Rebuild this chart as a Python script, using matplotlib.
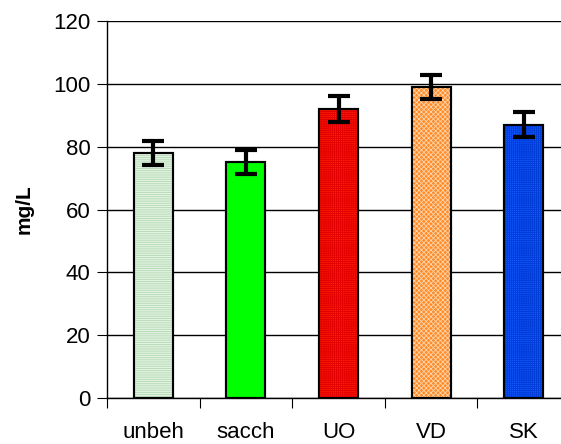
import numpy as np
import matplotlib.pyplot as plt

plt.rcParams['font.family'] = ['Liberation Sans', 'DejaVu Sans']
plt.rcParams['hatch.linewidth'] = 0.6

# data
labels = ["unbeh", "sacch", "UO", "VD", "SK"]
values = [78, 75, 92, 99, 87]
errors = [3.8, 3.8, 4.2, 3.9, 4.0]

# look of each bar: fill, hatch colour, hatch pattern
fills = ["#b8dcb8", "#00ff00", "#ff2200", "#ff8a28", "#1458ff"]
hatch_cols = ["#ecf7ec", "#00ff00", "#e40000", "#ffd4a8", "#003cd8"]
hatches = ["---------", None, "++++++++", "xxxxxxx", "++++++++"]

fig = plt.figure(figsize=(5.61, 4.44), dpi=100)
ax = fig.add_axes([107 / 561, 46 / 444, 463 / 561, 377 / 444])

x = np.arange(len(labels)) + 0.5
w = 0.42

ax.bar(x, values, w, color=fills, edgecolor="black", linewidth=1.5, zorder=3)
for xi, v, hc, h in zip(x, values, hatch_cols, hatches):
    if h:
        ax.bar(xi, v, w * 0.96, bottom=0.3, color="none", edgecolor=hc,
               hatch=h, linewidth=0, zorder=3.5)
# redraw outlines on top of the hatching
ax.bar(x, values, w, color="none", edgecolor="black", linewidth=1.5, zorder=4)
ax.errorbar(x, values, yerr=errors, fmt="none", ecolor="black",
            elinewidth=3, capsize=8, capthick=3, zorder=5)

ax.set_xlim(0, len(labels))
ax.set_ylim(0, 120)
ax.set_yticks(range(0, 121, 20))
ax.yaxis.grid(True, color="black", linewidth=1)
ax.set_axisbelow(True)

ax.set_xticks(np.arange(len(labels) + 1))
ax.set_xticklabels([])
ax.set_xticks(x, minor=True)
ax.set_xticklabels(labels, minor=True)
ax.tick_params(axis="x", which="minor", length=0, pad=17, labelsize=16)
ax.tick_params(axis="x", which="major", length=7, direction="out")
ax.tick_params(axis="y", length=7, direction="out", labelsize=16, pad=5)

for s in ["top", "right"]:
    ax.spines[s].set_visible(False)
ax.spines["left"].set_linewidth(1)
ax.spines["bottom"].set_linewidth(1)

ax.set_ylabel("mg/L", fontsize=15, fontweight="bold", labelpad=14)

fig.savefig("out.png", dpi=100)
